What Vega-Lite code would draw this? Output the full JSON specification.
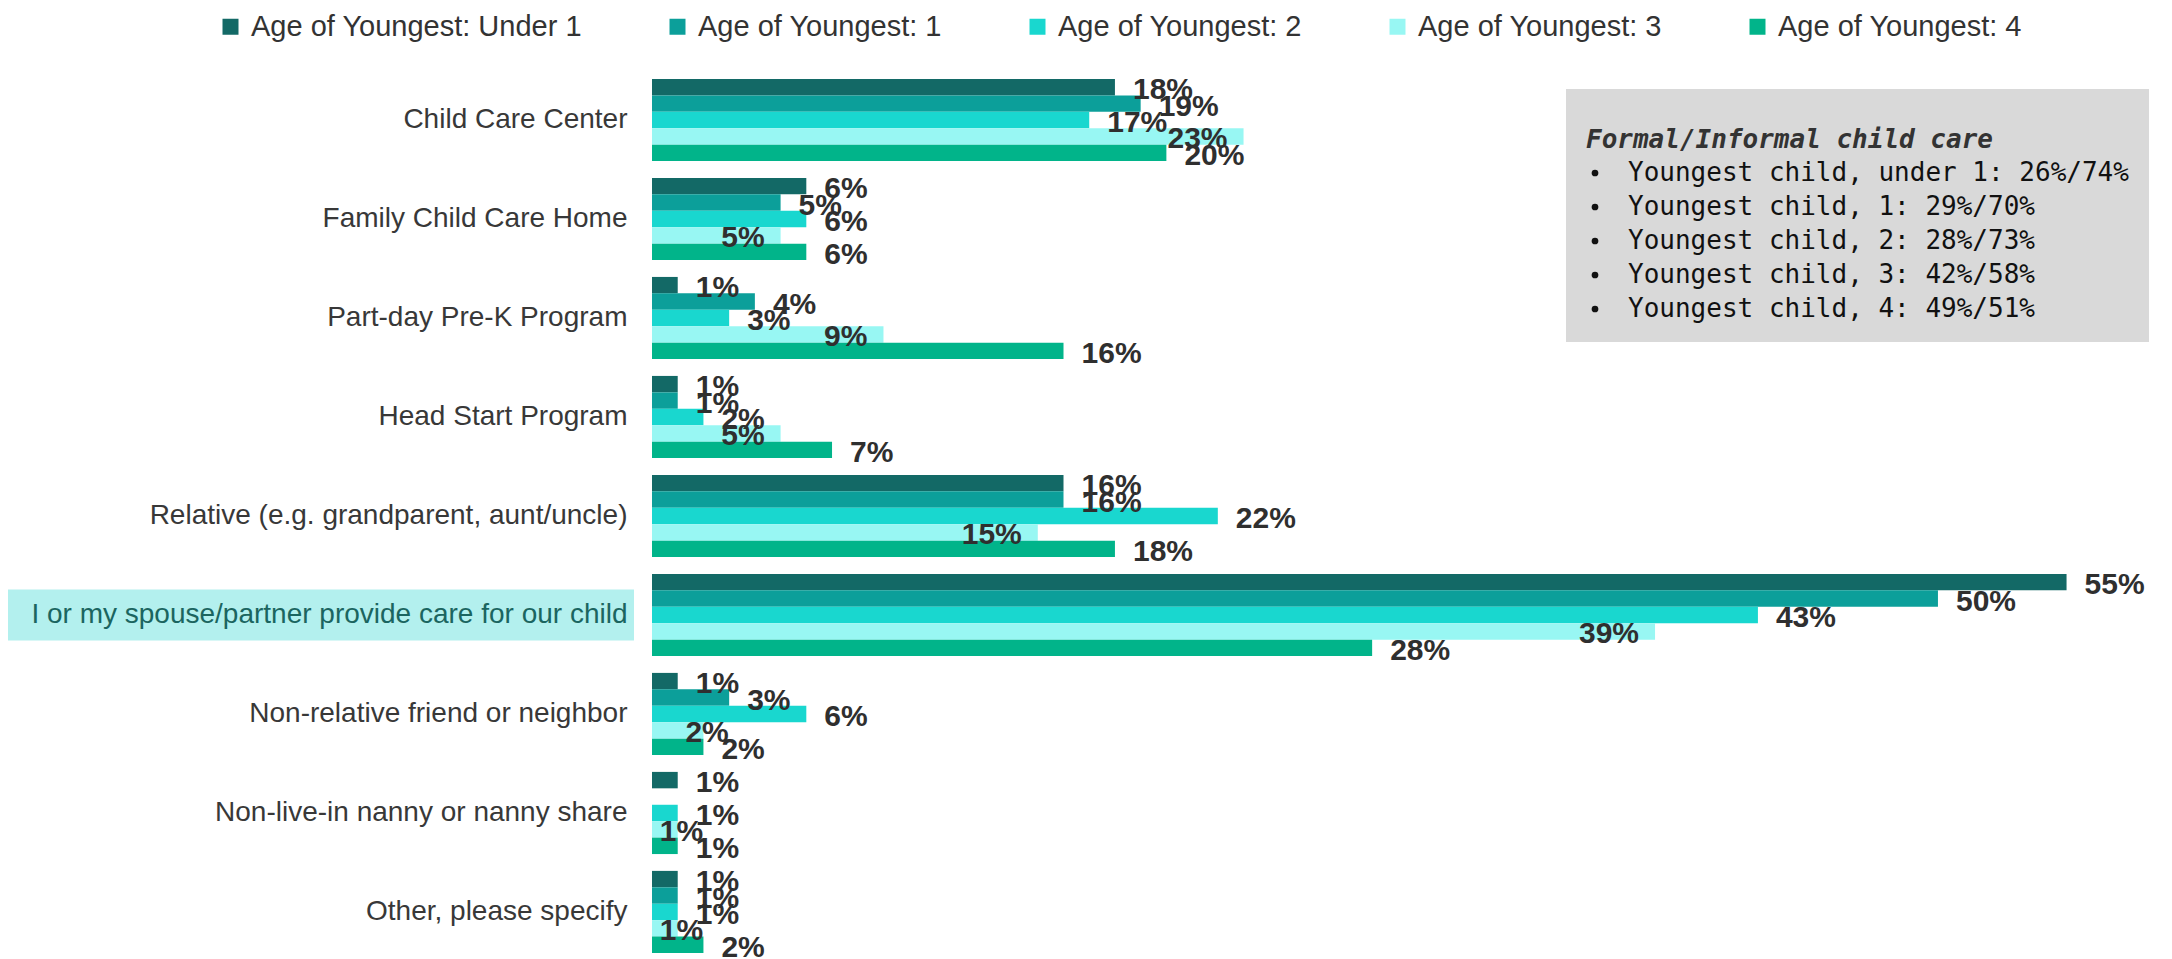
{
  "$schema": "https://vega.github.io/schema/vega-lite/v6.json",
  "width": 1520,
  "height": 884,
  "autosize": {"type": "none"},
  "padding": {"left": 652, "top": 74, "right": 0, "bottom": 1},
  "background": "white",
  "config": {"view": {"stroke": null}, "font": "Liberation Sans"},
  "datasets": {
    "care": [
      {"category": "Child Care Center", "series": "Age of Youngest: Under 1", "pct": 0.18},
      {"category": "Child Care Center", "series": "Age of Youngest: 1", "pct": 0.19},
      {"category": "Child Care Center", "series": "Age of Youngest: 2", "pct": 0.17},
      {"category": "Child Care Center", "series": "Age of Youngest: 3", "pct": 0.23},
      {"category": "Child Care Center", "series": "Age of Youngest: 4", "pct": 0.20},
      {"category": "Family Child Care Home", "series": "Age of Youngest: Under 1", "pct": 0.06},
      {"category": "Family Child Care Home", "series": "Age of Youngest: 1", "pct": 0.05},
      {"category": "Family Child Care Home", "series": "Age of Youngest: 2", "pct": 0.06},
      {"category": "Family Child Care Home", "series": "Age of Youngest: 3", "pct": 0.05},
      {"category": "Family Child Care Home", "series": "Age of Youngest: 4", "pct": 0.06},
      {"category": "Part-day Pre-K Program", "series": "Age of Youngest: Under 1", "pct": 0.01},
      {"category": "Part-day Pre-K Program", "series": "Age of Youngest: 1", "pct": 0.04},
      {"category": "Part-day Pre-K Program", "series": "Age of Youngest: 2", "pct": 0.03},
      {"category": "Part-day Pre-K Program", "series": "Age of Youngest: 3", "pct": 0.09},
      {"category": "Part-day Pre-K Program", "series": "Age of Youngest: 4", "pct": 0.16},
      {"category": "Head Start Program", "series": "Age of Youngest: Under 1", "pct": 0.01},
      {"category": "Head Start Program", "series": "Age of Youngest: 1", "pct": 0.01},
      {"category": "Head Start Program", "series": "Age of Youngest: 2", "pct": 0.02},
      {"category": "Head Start Program", "series": "Age of Youngest: 3", "pct": 0.05},
      {"category": "Head Start Program", "series": "Age of Youngest: 4", "pct": 0.07},
      {"category": "Relative (e.g. grandparent, aunt/uncle)", "series": "Age of Youngest: Under 1", "pct": 0.16},
      {"category": "Relative (e.g. grandparent, aunt/uncle)", "series": "Age of Youngest: 1", "pct": 0.16},
      {"category": "Relative (e.g. grandparent, aunt/uncle)", "series": "Age of Youngest: 2", "pct": 0.22},
      {"category": "Relative (e.g. grandparent, aunt/uncle)", "series": "Age of Youngest: 3", "pct": 0.15},
      {"category": "Relative (e.g. grandparent, aunt/uncle)", "series": "Age of Youngest: 4", "pct": 0.18},
      {"category": "I or my spouse/partner provide care for our child", "series": "Age of Youngest: Under 1", "pct": 0.55},
      {"category": "I or my spouse/partner provide care for our child", "series": "Age of Youngest: 1", "pct": 0.50},
      {"category": "I or my spouse/partner provide care for our child", "series": "Age of Youngest: 2", "pct": 0.43},
      {"category": "I or my spouse/partner provide care for our child", "series": "Age of Youngest: 3", "pct": 0.39},
      {"category": "I or my spouse/partner provide care for our child", "series": "Age of Youngest: 4", "pct": 0.28},
      {"category": "Non-relative friend or neighbor", "series": "Age of Youngest: Under 1", "pct": 0.01},
      {"category": "Non-relative friend or neighbor", "series": "Age of Youngest: 1", "pct": 0.03},
      {"category": "Non-relative friend or neighbor", "series": "Age of Youngest: 2", "pct": 0.06},
      {"category": "Non-relative friend or neighbor", "series": "Age of Youngest: 3", "pct": 0.02},
      {"category": "Non-relative friend or neighbor", "series": "Age of Youngest: 4", "pct": 0.02},
      {"category": "Non-live-in nanny or nanny share", "series": "Age of Youngest: Under 1", "pct": 0.01},
      {"category": "Non-live-in nanny or nanny share", "series": "Age of Youngest: 2", "pct": 0.01},
      {"category": "Non-live-in nanny or nanny share", "series": "Age of Youngest: 3", "pct": 0.01},
      {"category": "Non-live-in nanny or nanny share", "series": "Age of Youngest: 4", "pct": 0.01},
      {"category": "Other, please specify", "series": "Age of Youngest: Under 1", "pct": 0.01},
      {"category": "Other, please specify", "series": "Age of Youngest: 1", "pct": 0.01},
      {"category": "Other, please specify", "series": "Age of Youngest: 2", "pct": 0.01},
      {"category": "Other, please specify", "series": "Age of Youngest: 3", "pct": 0.01},
      {"category": "Other, please specify", "series": "Age of Youngest: 4", "pct": 0.02}
    ],
    "notes": [
      {"note": "Youngest child, under 1: 26%/74%"},
      {"note": "Youngest child, 1: 29%/70%"},
      {"note": "Youngest child, 2: 28%/73%"},
      {"note": "Youngest child, 3: 42%/58%"},
      {"note": "Youngest child, 4: 49%/51%"}
    ]
  },
  "layer": [
    {
      "data": {"values": [{"row": 1}]},
      "mark": {"type": "bar", "color": "#b3f0ee", "height": 51},
      "encoding": {
        "y": {
          "datum": "I or my spouse/partner provide care for our child",
          "type": "nominal",
          "scale": {
            "domain": ["Child Care Center", "Family Child Care Home", "Part-day Pre-K Program", "Head Start Program", "Relative (e.g. grandparent, aunt/uncle)", "I or my spouse/partner provide care for our child", "Non-relative friend or neighbor", "Non-live-in nanny or nanny share", "Other, please specify"],
            "paddingInner": 0.17,
            "paddingOuter": 0.05
          },
          "axis": {
            "title": null,
            "domain": false,
            "ticks": false,
            "labelFontSize": 28,
            "labelFont": "Liberation Sans",
            "labelColor": {"condition": {"test": "datum.value === 'I or my spouse/partner provide care for our child'", "value": "#1b6560"}, "value": "#383838"},
            "labelPadding": 25,
            "labelLimit": 800,
            "zindex": 1
          }
        },
        "x": {"datum": -0.2504, "type": "quantitative", "scale": {"domain": [0, 0.591], "nice": false, "zero": false}, "axis": null},
        "x2": {"datum": -0.007}
      }
    },
    {
      "data": {"name": "care"},
      "mark": {"type": "bar"},
      "encoding": {
        "y": {"field": "category", "type": "nominal", "sort": null, "title": null},
        "yOffset": {"field": "series", "type": "nominal", "sort": null, "scale": {"domain": ["Age of Youngest: Under 1", "Age of Youngest: 1", "Age of Youngest: 2", "Age of Youngest: 3", "Age of Youngest: 4"], "paddingInner": 0, "paddingOuter": 0}},
        "x": {"field": "pct", "type": "quantitative", "axis": null},
        "color": {
          "field": "series",
          "type": "nominal",
          "sort": null,
          "scale": {"domain": ["Age of Youngest: Under 1", "Age of Youngest: 1", "Age of Youngest: 2", "Age of Youngest: 3", "Age of Youngest: 4"], "range": ["#136966", "#0c9f9a", "#19d7cf", "#98f7f3", "#01b48a"]},
          "legend": {
            "title": null,
            "orient": "none",
            "legendX": -436,
            "legendY": -62,
            "direction": "horizontal",
            "columns": 5,
            "columnPadding": 80,
            "symbolType": "square",
            "symbolSize": 256,
            "symbolStrokeWidth": 0,
            "labelFontSize": 29,
            "labelFont": "Liberation Sans",
            "labelColor": "#333333",
            "labelOffset": 6,
            "labelLimit": 700,
            "padding": 0
          }
        }
      }
    },
    {
      "data": {"name": "care"},
      "transform": [{"filter": "datum.series !== 'Age of Youngest: 3'"}],
      "mark": {"type": "text", "align": "left", "baseline": "middle", "dx": 18, "dy": 3, "fontSize": 30, "fontWeight": "bold", "color": "#2f2f2f", "font": "Liberation Sans"},
      "encoding": {
        "y": {"field": "category", "type": "nominal", "sort": null, "title": null},
        "yOffset": {"field": "series", "type": "nominal", "sort": null},
        "x": {"field": "pct", "type": "quantitative"},
        "text": {"field": "pct", "type": "quantitative", "format": ".0%"}
      }
    },
    {
      "data": {"name": "care"},
      "transform": [{"filter": "datum.series === 'Age of Youngest: 3' && datum.pct >= 0.03"}],
      "mark": {"type": "text", "align": "right", "baseline": "middle", "dx": -16, "dy": 3, "fontSize": 30, "fontWeight": "bold", "color": "#2f2f2f", "font": "Liberation Sans"},
      "encoding": {
        "y": {"field": "category", "type": "nominal", "sort": null, "title": null},
        "yOffset": {"field": "series", "type": "nominal", "sort": null},
        "x": {"field": "pct", "type": "quantitative"},
        "text": {"field": "pct", "type": "quantitative", "format": ".0%"}
      }
    },
    {
      "data": {"name": "care"},
      "transform": [{"filter": "datum.series === 'Age of Youngest: 3' && datum.pct < 0.03"}],
      "mark": {"type": "text", "align": "left", "baseline": "middle", "dx": -18, "dy": 3, "fontSize": 30, "fontWeight": "bold", "color": "#2f2f2f", "font": "Liberation Sans"},
      "encoding": {
        "y": {"field": "category", "type": "nominal", "sort": null, "title": null},
        "yOffset": {"field": "series", "type": "nominal", "sort": null},
        "x": {"field": "pct", "type": "quantitative"},
        "text": {"field": "pct", "type": "quantitative", "format": ".0%"}
      }
    },
    {
      "data": {"name": "notes"},
      "mark": {"type": "point", "filled": true, "opacity": 0, "color": "#111111"},
      "encoding": {
        "shape": {
          "field": "note",
          "type": "nominal",
          "sort": null,
          "scale": {"domain": ["Youngest child, under 1: 26%/74%", "Youngest child, 1: 29%/70%", "Youngest child, 2: 28%/73%", "Youngest child, 3: 42%/58%", "Youngest child, 4: 49%/51%"], "range": ["circle", "circle", "circle", "circle", "circle"]},
          "legend": {
            "title": [" ", "Formal/Informal child care"],
            "orient": "none",
            "legendX": 914,
            "legendY": 15,
            "direction": "vertical",
            "fillColor": "#d9d9d9",
            "padding": 20,
            "titleFont": "DejaVu Sans Mono",
            "titleFontSize": 26,
            "titleLineHeight": 18,
            "titleFontStyle": "italic",
            "titleFontWeight": "bold",
            "titleColor": "#333333",
            "titleLimit": 900,
            "titlePadding": 7,
            "labelFont": "DejaVu Sans Mono",
            "labelFontSize": 26,
            "labelColor": "#111111",
            "labelLimit": 900,
            "labelOffset": 20,
            "symbolOffset": -4,
            "symbolSize": 45,
            "symbolType": "circle",
            "symbolFillColor": "#111111",
            "symbolStrokeColor": "#111111",
            "symbolStrokeWidth": 0,
            "symbolOpacity": 1,
            "rowPadding": 8
          }
        }
      }
    }
  ]
}
